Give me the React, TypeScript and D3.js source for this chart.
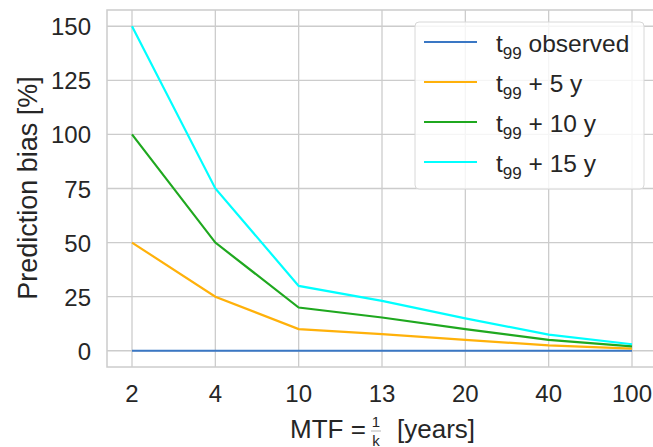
import React from "react";
import * as d3 from "d3";

const categories = ["2", "4", "10", "13", "20", "40", "100"];
const observed = [0, 0, 0, 0, 0, 0, 0];
const plus5 = [50, 25, 10, 7.69, 5, 2.5, 1];
const plus10 = [100, 50, 20, 15.38, 10, 5, 2];
const plus15 = [150, 75, 30, 23.08, 15, 7.5, 3];
const yTicks = [0, 25, 50, 75, 100, 125, 150];

const series = [
  { name: " observed", values: observed, color: "#3a77c4" },
  { name: " + 5 y", values: plus5, color: "#ffb10a" },
  { name: " + 10 y", values: plus10, color: "#1fa81f" },
  { name: " + 15 y", values: plus15, color: "#00ffff" },
];

const W = 653, H = 447;
const left = 107, top = 10, bottom = 367, right = 657;
const font = "'Liberation Sans', Arial, sans-serif";
const grid = "#cccccc";
const ink = "#262626";

export default function App() {
  const x = d3.scaleLinear().domain([-0.3, categories.length - 1 + 0.3]).range([left, right]);
  const y = d3.scaleLinear().domain([-7.5, 157.5]).range([bottom, top]);
  const line = d3.line<number>().x((_, i) => x(i)).y(d => y(d));

  return (
    <svg width={W} height={H} style={{ position: "absolute", left: 0, top: 0 }} fontFamily={font}>
      <rect x={0} y={0} width={W} height={H} fill="#fff" />
      {categories.map((c, i) => (
        <g key={c}>
          <line x1={x(i)} x2={x(i)} y1={top} y2={bottom} stroke={grid} strokeWidth={1.3} />
          <text x={x(i)} y={402} textAnchor="middle" fontSize={24} fill={ink}>{c}</text>
        </g>
      ))}
      {yTicks.map(t => (
        <g key={t}>
          <line x1={left} x2={right} y1={y(t)} y2={y(t)} stroke={grid} strokeWidth={1.3} />
          <text x={91} y={y(t) + 9} textAnchor="end" fontSize={24} fill={ink}>{t}</text>
        </g>
      ))}
      <rect x={left} y={top} width={right - left} height={bottom - top} fill="none" stroke={grid} strokeWidth={1.5} />
      {series.map(s => (
        <path key={s.name} d={line(s.values) ?? ""} fill="none" stroke={s.color} strokeWidth={2.2} />
      ))}
      <g>
        <rect x={415} y={22} width={229} height={167} rx={4} fill="#fff" fillOpacity={0.8} stroke="#d8d8d8" strokeWidth={1} />
        {series.map((s, i) => {
          const cy = 42 + i * 40;
          return (
            <g key={s.name}>
              <line x1={424} x2={477} y1={cy} y2={cy} stroke={s.color} strokeWidth={2.2} />
              <text x={496} y={cy + 10} fontSize={24.5} fill={ink}>
                t<tspan fontSize={17} dy={7}>99</tspan><tspan dy={-7}>{s.name}</tspan>
              </text>
            </g>
          );
        })}
      </g>
      <text transform="translate(37,188) rotate(-90)" textAnchor="middle" fontSize={27} fill={ink}>Prediction bias [%]</text>
      <g fill={ink}>
        <text x={290} y={438} fontSize={26}>MTF =</text>
        <text x={376} y={427} fontSize={15} textAnchor="middle">1</text>
        <line x1={371} x2={381} y1={431} y2={431} stroke="#888" strokeWidth={0.6} />
        <text x={376} y={446} fontSize={15} textAnchor="middle">k</text>
        <text x={397} y={438} fontSize={26}>[years]</text>
      </g>
    </svg>
  );
}
